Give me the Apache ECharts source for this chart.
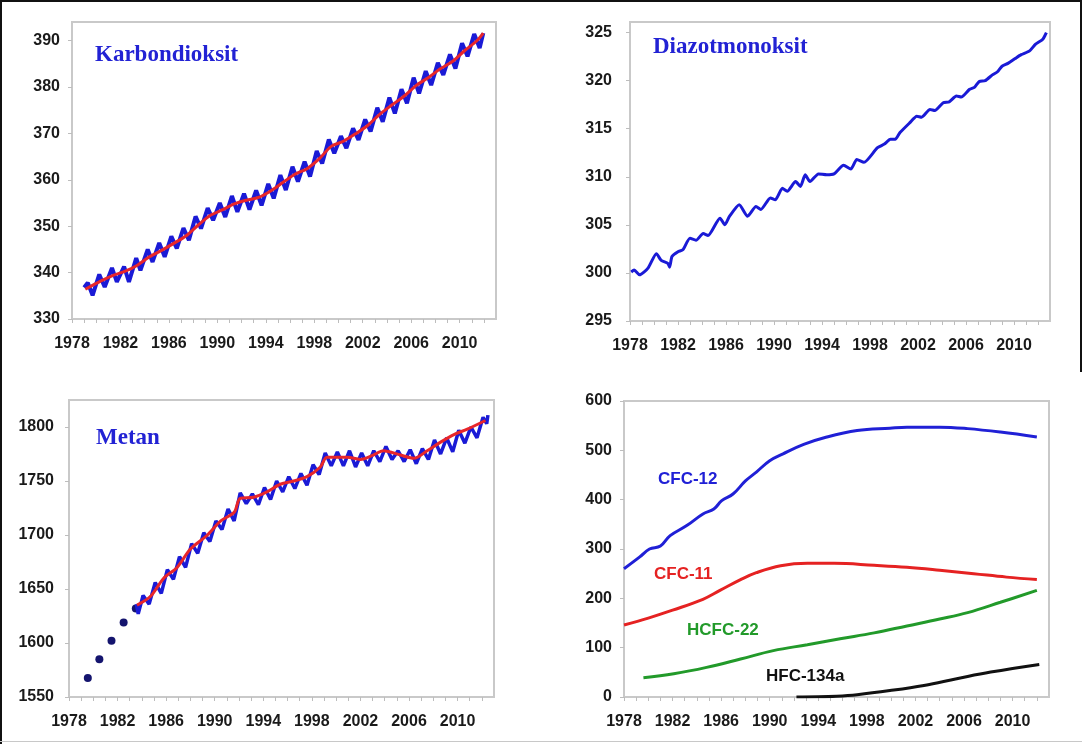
<!DOCTYPE html>
<html>
<head>
<meta charset="utf-8">
<title>Klimagasser</title>
<script src="https://cdn.jsdelivr.net/npm/echarts@6/dist/echarts.min.js"></script>
<style>
  html, body { margin: 0; padding: 0; background: #ffffff; }
  #wrap { position: relative; width: 1082px; height: 744px; overflow: hidden; }
  #chart { position: absolute; left: 0; top: 0; width: 1082px; height: 744px; }
  .edge { position: absolute; background: #111; }
</style>
</head>
<body>
<div id="wrap">
  <div id="chart"></div>
  <div class="edge" style="left:0;top:0;width:1082px;height:2px;"></div>
  <div class="edge" style="left:0;top:0;width:2px;height:744px;"></div>
  <div class="edge" style="left:1080px;top:0;width:2px;height:372px;"></div>
  <div class="edge" style="left:0;top:741px;width:1082px;height:1px;background:#c8c8c8;"></div>
</div>
<script>
// ---- tick labels ----
const yearLabels = [1978, 1982, 1986, 1990, 1994, 1998, 2002, 2006, 2010];
const yearTicks = [1978, 1979, 1980, 1981, 1982, 1983, 1984, 1985, 1986, 1987, 1988, 1989,
  1990, 1991, 1992, 1993, 1994, 1995, 1996, 1997, 1998, 1999, 2000, 2001, 2002, 2003,
  2004, 2005, 2006, 2007, 2008, 2009, 2010, 2011, 2012];
const co2Ticks = [330, 340, 350, 360, 370, 380, 390];
const n2oTicks = [295, 300, 305, 310, 315, 320, 325];
const ch4Ticks = [1550, 1600, 1650, 1700, 1750, 1800];
const cfcTicks = [0, 100, 200, 300, 400, 500, 600];

// ---- CO2 (ppm): seasonal peaks/troughs and trend ----
const co2Seasonal = [
  [1979.0, 336.8], [1979.3, 337.8], [1979.7, 335.1], [1980.25, 339.6], [1980.7, 336.9],
  [1981.3, 341.0], [1981.7, 338.0], [1982.3, 341.3], [1982.7, 338.0], [1983.3, 343.1],
  [1983.65, 340.5], [1984.25, 345.0], [1984.65, 342.3], [1985.2, 346.4], [1985.65, 343.4],
  [1986.2, 347.8], [1986.65, 345.2], [1987.2, 349.6], [1987.65, 347.0], [1988.2, 352.1],
  [1988.65, 349.5], [1989.2, 353.9], [1989.65, 351.3], [1990.2, 355.0], [1990.65, 352.0],
  [1991.2, 356.5], [1991.65, 353.1], [1992.2, 357.0], [1992.65, 353.6], [1993.2, 357.7],
  [1993.65, 354.5], [1994.2, 359.1], [1994.65, 356.0], [1995.2, 361.0], [1995.65, 357.8],
  [1996.2, 362.8], [1996.65, 359.6], [1997.2, 363.9], [1997.65, 360.7], [1998.2, 366.2],
  [1998.65, 363.5], [1999.2, 368.7], [1999.65, 365.7], [2000.2, 369.4], [2000.65, 366.8],
  [2001.2, 371.1], [2001.65, 368.6], [2002.2, 373.0], [2002.65, 370.4], [2003.2, 375.5],
  [2003.65, 372.5], [2004.2, 377.7], [2004.65, 374.3], [2005.2, 379.5], [2005.65, 376.5],
  [2006.2, 382.0], [2006.65, 378.6], [2007.2, 383.4], [2007.65, 380.4], [2008.2, 385.2],
  [2008.65, 382.6], [2009.2, 387.0], [2009.65, 384.0], [2010.2, 389.4], [2010.65, 386.6],
  [2011.2, 391.4], [2011.65, 388.4], [2011.95, 391.6]
];
const co2Trend = [
  [1979.1, 336.4], [1980.4, 338.2], [1981.4, 339.4], [1982.4, 340.3], [1983.4, 341.6],
  [1984.4, 343.4], [1985.4, 344.8], [1986.4, 346.3], [1987.4, 347.9], [1988.4, 350.2],
  [1989.4, 352.3], [1990.4, 353.5], [1991.4, 354.8], [1992.4, 355.6], [1993.4, 356.2],
  [1994.4, 357.6], [1995.4, 359.4], [1996.4, 361.2], [1997.4, 362.4], [1998.4, 364.5],
  [1999.4, 367.2], [2000.4, 368.3], [2001.4, 369.9], [2002.4, 371.7], [2003.4, 374.1],
  [2004.4, 376.1], [2005.4, 378.0], [2006.4, 380.3], [2007.4, 382.0], [2008.4, 383.9],
  [2009.4, 385.5], [2010.4, 387.8], [2011.4, 389.9], [2011.95, 391.6]
];

// ---- N2O (ppb) ----
const n2oSeries = [
  [1978.1, 300.1], [1978.35, 300.3], [1978.8, 299.8], [1979.5, 300.5], [1980.2, 302.0],
  [1980.6, 301.3], [1981.15, 301.0], [1981.3, 300.6], [1981.5, 301.7], [1982.0, 302.2],
  [1982.4, 302.4], [1983.0, 303.6], [1983.5, 303.4], [1984.1, 304.1], [1984.5, 303.9],
  [1985.5, 305.7], [1985.9, 305.0], [1986.3, 305.9], [1987.1, 307.1], [1987.8, 305.9],
  [1988.5, 306.9], [1988.9, 306.6], [1989.7, 307.8], [1990.1, 307.6], [1990.7, 308.8],
  [1991.1, 308.5], [1991.8, 309.5], [1992.2, 309.0], [1992.6, 310.2], [1993.0, 309.5],
  [1993.7, 310.3], [1994.4, 310.2], [1995.0, 310.3], [1995.8, 311.2], [1996.4, 310.8],
  [1996.9, 311.8], [1997.5, 311.5], [1998.6, 313.0], [1999.2, 313.4], [1999.7, 313.9],
  [2000.1, 313.9], [2000.5, 314.6], [2001.3, 315.6], [2001.9, 316.3], [2002.3, 316.2],
  [2003.0, 317.0], [2003.4, 316.9], [2004.1, 317.7], [2004.6, 317.8], [2005.2, 318.4],
  [2005.6, 318.3], [2006.3, 319.1], [2006.7, 319.3], [2007.1, 319.9], [2007.6, 320.0],
  [2008.2, 320.6], [2008.6, 320.9], [2009.0, 321.5], [2009.5, 321.8], [2010.1, 322.3],
  [2010.6, 322.7], [2011.3, 323.1], [2011.8, 323.8], [2012.4, 324.3], [2012.7, 325.0]
];

// ---- CH4 (ppb): early annual estimates, seasonal record and trend ----
const ch4Early = [
  [1979.55, 1567.6], [1980.5, 1585.0], [1981.5, 1602.0], [1982.5, 1619.0], [1983.5, 1632.0]
];
const ch4Seasonal = [
  [1983.55, 1636], [1983.7, 1627], [1984.1, 1644], [1984.6, 1636], [1985.1, 1656],
  [1985.6, 1646], [1986.1, 1668], [1986.6, 1659], [1987.1, 1680], [1987.6, 1670],
  [1988.1, 1692], [1988.6, 1683], [1989.1, 1702], [1989.6, 1694], [1990.1, 1713],
  [1990.6, 1705], [1991.1, 1724], [1991.6, 1713], [1992.1, 1739], [1992.6, 1729],
  [1993.1, 1738], [1993.6, 1728], [1994.1, 1744], [1994.6, 1733], [1995.1, 1750],
  [1995.6, 1740], [1996.1, 1754], [1996.6, 1743], [1997.1, 1757], [1997.6, 1746],
  [1998.1, 1765], [1998.6, 1756], [1999.1, 1776], [1999.6, 1764], [2000.1, 1777],
  [2000.6, 1764], [2001.1, 1778], [2001.6, 1763], [2002.1, 1776], [2002.6, 1764],
  [2003.1, 1778], [2003.6, 1768], [2004.1, 1782], [2004.6, 1770], [2005.1, 1778],
  [2005.6, 1768], [2006.1, 1779], [2006.6, 1766], [2007.1, 1780], [2007.6, 1770],
  [2008.1, 1788], [2008.6, 1775], [2009.1, 1790], [2009.6, 1777], [2010.1, 1797],
  [2010.6, 1785], [2011.1, 1800], [2011.6, 1790], [2012.1, 1809], [2012.4, 1803],
  [2012.5, 1811]
];
const ch4Trend = [
  [1983.6, 1635], [1984.7, 1643], [1985.8, 1660], [1986.9, 1670], [1988.0, 1687],
  [1989.4, 1700], [1990.5, 1713], [1991.6, 1721], [1992.1, 1734], [1993.2, 1735],
  [1994.3, 1740], [1995.4, 1747], [1996.5, 1750], [1997.6, 1754], [1998.7, 1763],
  [1999.25, 1772], [2000.9, 1772], [2002.0, 1770], [2003.05, 1774], [2003.9, 1778],
  [2005.3, 1774], [2006.4, 1771], [2007.5, 1778], [2008.6, 1786], [2009.7, 1793],
  [2010.8, 1798], [2012.3, 1806]
];

// ---- halocarbons (ppt) ----
const cfc12 = [
  [1978.0, 260], [1979.3, 284], [1980.1, 300], [1981.0, 306], [1981.8, 327], [1983.2, 348],
  [1984.5, 371], [1985.4, 381], [1986.05, 398], [1987.0, 412], [1988.0, 438], [1988.9, 456],
  [1990.0, 479], [1991.1, 493], [1992.8, 512], [1994.7, 527], [1997.2, 540], [1999.9, 545],
  [2001.3, 547], [2004.0, 547], [2006.3, 544], [2009.0, 537], [2012.0, 527]
];
const cfc11 = [
  [1978.0, 146], [1980.0, 160], [1982.0, 176], [1984.5, 198], [1985.9, 216], [1987.6, 238],
  [1988.9, 252], [1990.9, 266], [1993.1, 271], [1995.3, 271], [1998.6, 267], [2001.3, 263],
  [2004.0, 257], [2006.8, 250], [2009.5, 243], [2012.0, 238]
];
const hcfc22 = [
  [1979.6, 39], [1982.1, 47], [1984.8, 60], [1987.6, 77], [1990.3, 94], [1993.1, 106],
  [1995.8, 118], [1998.6, 130], [2001.3, 144], [2004.0, 158], [2006.3, 171], [2009.0, 192],
  [2012.0, 216]
];
const hfc134a = [
  [1992.2, 0], [1994.0, 0.3], [1995.5, 1.5], [1997.2, 4.7], [1999.9, 13], [2002.7, 23.5],
  [2005.4, 37], [2008.2, 50.5], [2012.2, 66]
];

// ---- styling ----
const labelFont = { fontFamily: '"Liberation Sans", Arial, sans-serif', fontWeight: 'bold', fontSize: 16, color: '#1a1a1a' };
const edgeColor = '#c9c9c9';
const BLUE = '#1a1ad6';
const RED = '#e8262a';

const grids = [
  { left: 72, top: 22, width: 424, height: 297 },
  { left: 630, top: 22, width: 420, height: 299 },
  { left: 69, top: 400, width: 425, height: 297 },
  { left: 624, top: 401, width: 425, height: 296 }
].map(g => Object.assign({ show: true, borderColor: edgeColor, borderWidth: 2, backgroundColor: '#ffffff' }, g));

function makeX(i) {
  return {
    type: 'value', gridIndex: i, min: 1978, max: 2013,
    axisLine: { show: true, lineStyle: { color: edgeColor, width: 2 } },
    axisTick: { show: true, customValues: yearTicks, length: 4, lineStyle: { color: '#bdbdbd' } },
    axisLabel: Object.assign({ customValues: yearLabels, margin: 17, formatter: v => String(v) }, labelFont),
    splitLine: { show: false }
  };
}
function makeY(i, min, max, ticks, margin) {
  return {
    type: 'value', gridIndex: i, min: min, max: max,
    axisLine: { show: true, lineStyle: { color: edgeColor, width: 2 } },
    axisTick: { show: true, customValues: ticks, length: 4, lineStyle: { color: '#bdbdbd' } },
    axisLabel: Object.assign({ customValues: ticks, margin: margin, formatter: v => String(v) }, labelFont),
    splitLine: { show: false }
  };
}
function line(idx, data, color, width, smooth) {
  return {
    type: 'line', xAxisIndex: idx, yAxisIndex: idx, data: data,
    showSymbol: false, smooth: smooth || false, animation: false,
    lineStyle: { color: color, width: width }, itemStyle: { color: color }
  };
}
function caption(text, x, y, font, color) {
  return { type: 'text', x: x, y: y, z: 100,
    style: { text: text, font: font, fill: color, verticalAlign: 'middle', align: 'left' } };
}
const titleFont = 'bold 23px "Liberation Serif", "Times New Roman", serif';
const tagFont = 'bold 17px "Liberation Sans", Arial, sans-serif';

const chart = echarts.init(document.getElementById('chart'), null, { renderer: 'canvas' });
chart.setOption({
  animation: false,
  backgroundColor: '#ffffff',
  grid: grids,
  xAxis: [makeX(0), makeX(1), makeX(2), makeX(3)],
  yAxis: [
    makeY(0, 330, 394, co2Ticks, 12),
    makeY(1, 295, 326.1, n2oTicks, 18),
    makeY(2, 1550, 1825, ch4Ticks, 15),
    makeY(3, 0, 600, cfcTicks, 12)
  ],
  series: [
    line(0, co2Seasonal, BLUE, 4),
    line(0, co2Trend, RED, 3, 0.3),
    line(1, n2oSeries, BLUE, 3, 0.2),
    {
      type: 'scatter', xAxisIndex: 2, yAxisIndex: 2, data: ch4Early,
      symbolSize: 8, itemStyle: { color: '#14146e', opacity: 1 }, animation: false
    },
    line(2, ch4Seasonal, BLUE, 3.5),
    line(2, ch4Trend, RED, 3, 0.3),
    line(3, cfc12, '#2020d6', 3, 0.4),
    line(3, cfc11, '#e52222', 3, 0.4),
    line(3, hcfc22, '#229a2a', 3, 0.4),
    line(3, hfc134a, '#111111', 3, 0.4)
  ],
  graphic: [
    caption('Karbondioksit', 95, 55, titleFont, '#2222d4'),
    caption('Diazotmonoksit', 653, 47, titleFont, '#2222d4'),
    caption('Metan', 96, 438, titleFont, '#2222d4'),
    caption('CFC-12', 658, 479, tagFont, '#2020d6'),
    caption('CFC-11', 654, 574, tagFont, '#e52222'),
    caption('HCFC-22', 687, 630, tagFont, '#229a2a'),
    caption('HFC-134a', 766, 676, tagFont, '#111111')
  ]
});
</script>
</body>
</html>
